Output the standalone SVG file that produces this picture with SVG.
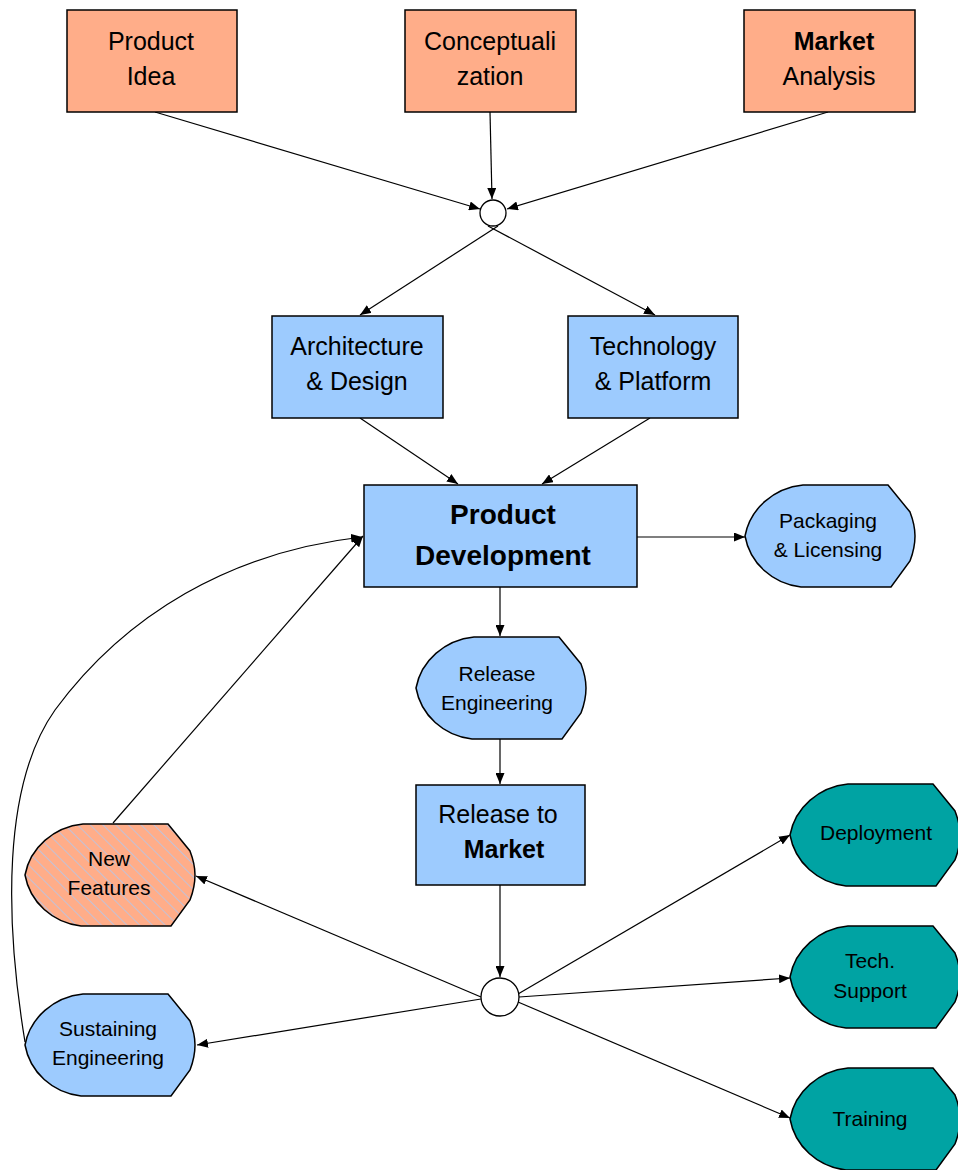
<svg xmlns="http://www.w3.org/2000/svg" width="958" height="1170" viewBox="0 0 958 1170">
<defs>
<marker id="arr" viewBox="0 0 11 9" refX="11" refY="4.5" markerWidth="11" markerHeight="9" markerUnits="userSpaceOnUse" orient="auto">
<path d="M0,0 L11,4.5 L0,9 Z" fill="#000"/>
</marker>
<pattern id="hatch" patternUnits="userSpaceOnUse" width="9" height="9" patternTransform="rotate(-45)">
<rect width="9" height="9" fill="#FFAD89"/>
<line x1="0" y1="0" x2="0" y2="9" stroke="#AFC8F0" stroke-width="1.5"/>
</pattern>
<path id="disp" d="M58,0 H143 L165,27 Q170,40 170,51 Q170,63 165,76 L146,102 H56 A64,62 0 0 1 0,51 A66,62 0 0 1 58,0 Z"/>
</defs>
<style>
text{font-family:"Liberation Sans",Arial,sans-serif;text-anchor:middle;fill:#000}
.box{stroke:#000;stroke-width:1.5}
.sal{fill:#FFAD89}
.blu{fill:#9DCBFE}
.teal{fill:#00A3A3}
.t25{font-size:25px}
.t21{font-size:21px}
.b{font-weight:bold}
.con{fill:none;stroke:#000;stroke-width:1.2}
.circ{fill:#fff;stroke:#000;stroke-width:1.3}
</style>

<g id="connectors">
<line class="con" x1="155" y1="112" x2="480" y2="209" marker-end="url(#arr)"/>
<line class="con" x1="490" y1="112" x2="492" y2="199" marker-end="url(#arr)"/>
<line class="con" x1="828" y1="112" x2="507" y2="209" marker-end="url(#arr)"/>
<line class="con" x1="498" y1="226" x2="360" y2="315" marker-end="url(#arr)"/>
<line class="con" x1="488" y1="226" x2="655" y2="315" marker-end="url(#arr)"/>
<line class="con" x1="360" y1="418" x2="458" y2="484" marker-end="url(#arr)"/>
<line class="con" x1="650" y1="418" x2="542" y2="484" marker-end="url(#arr)"/>
<line class="con" x1="637" y1="537" x2="745" y2="537" marker-end="url(#arr)"/>
<line class="con" x1="500" y1="587" x2="500" y2="636" marker-end="url(#arr)"/>
<line class="con" x1="500" y1="739" x2="500" y2="784" marker-end="url(#arr)"/>
<line class="con" x1="500" y1="885" x2="500" y2="977" marker-end="url(#arr)"/>
<line class="con" x1="481" y1="997" x2="196" y2="876" marker-end="url(#arr)"/>
<line class="con" x1="481" y1="999" x2="197" y2="1045" marker-end="url(#arr)"/>
<line class="con" x1="518" y1="994" x2="790" y2="835" marker-end="url(#arr)"/>
<line class="con" x1="519" y1="997" x2="790" y2="978" marker-end="url(#arr)"/>
<line class="con" x1="518" y1="1002" x2="790" y2="1118" marker-end="url(#arr)"/>
<line class="con" x1="113" y1="823" x2="363" y2="536" marker-end="url(#arr)"/>
<path class="con" d="M25,1042 C5,920 2,785 55,710 C125,615 230,552 362,537" marker-end="url(#arr)"/>
</g>

<g id="n-product-idea">
<rect class="box sal" x="67" y="10" width="170" height="102"/>
<text class="t25" x="151" y="50">Product</text>
<text class="t25" x="151" y="85">Idea</text>
</g>
<g id="n-conceptualization">
<rect class="box sal" x="405" y="10" width="171" height="102"/>
<text class="t25" x="490" y="50">Conceptuali</text>
<text class="t25" x="490" y="85">zation</text>
</g>
<g id="n-market-analysis">
<rect class="box sal" x="744" y="10" width="171" height="102"/>
<text class="t25 b" x="834" y="50">Market</text>
<text class="t25" x="829" y="85">Analysis</text>
</g>
<g id="n-join-top">
<circle class="circ" cx="493" cy="213" r="13"/>
</g>
<g id="n-architecture">
<rect class="box blu" x="272" y="316" width="171" height="102"/>
<text class="t25" x="357" y="355">Architecture</text>
<text class="t25" x="357" y="390">&amp; Design</text>
</g>
<g id="n-technology">
<rect class="box blu" x="568" y="316" width="170" height="102"/>
<text class="t25" x="653" y="355">Technology</text>
<text class="t25" x="653" y="390">&amp; Platform</text>
</g>
<g id="n-product-development">
<rect class="box blu" x="364" y="485" width="273" height="102"/>
<text class="b" font-size="28" x="503" y="524">Product</text>
<text class="b" font-size="28" x="503" y="565">Development</text>
</g>
<g id="n-packaging">
<use href="#disp" class="box blu" x="745" y="485"/>
<text class="t21" x="828" y="528">Packaging</text>
<text class="t21" x="828" y="557">&amp; Licensing</text>
</g>
<g id="n-release-engineering">
<use href="#disp" class="box blu" x="416" y="637"/>
<text class="t21" x="497" y="681">Release</text>
<text class="t21" x="497" y="710">Engineering</text>
</g>
<g id="n-release-to-market">
<rect class="box blu" x="416" y="785" width="169" height="100"/>
<text class="t25" x="498" y="823">Release to</text>
<text class="t25 b" x="504" y="858">Market</text>
</g>
<g id="n-join-bottom">
<circle class="circ" cx="500" cy="997" r="19"/>
</g>
<g id="n-new-features">
<use href="#disp" class="box" fill="url(#hatch)" x="25" y="824"/>
<text class="t21" x="109" y="866">New</text>
<text class="t21" x="109" y="895">Features</text>
</g>
<g id="n-sustaining">
<use href="#disp" class="box blu" x="25" y="994"/>
<text class="t21" x="108" y="1036">Sustaining</text>
<text class="t21" x="108" y="1065">Engineering</text>
</g>
<g id="n-deployment">
<use href="#disp" class="box teal" x="790" y="784"/>
<text class="t21" x="876" y="840">Deployment</text>
</g>
<g id="n-tech-support">
<use href="#disp" class="box teal" x="790" y="926"/>
<text class="t21" x="870" y="968">Tech.</text>
<text class="t21" x="870" y="998">Support</text>
</g>
<g id="n-training">
<use href="#disp" class="box teal" x="790" y="1068"/>
<text class="t21" x="870" y="1126">Training</text>
</g>
</svg>
